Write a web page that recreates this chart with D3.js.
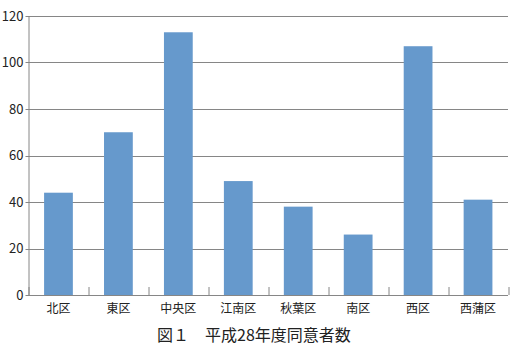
<!DOCTYPE html>
<meta charset="utf-8">
<style>
body { margin: 0; background: #fff; }
text { font-family: "Noto Sans CJK JP", sans-serif; fill: #222; }
</style>
<body></body>
<script src="https://d3js.org/d3.v7.min.js"></script>
<script>
// ward names and counts
var wards = ["北区", "東区", "中央区", "江南区", "秋葉区", "南区", "西区", "西蒲区"];
var counts = [44, 70, 113, 49, 38, 26, 107, 41];
var yTicks = [0, 20, 40, 60, 80, 100, 120];
var title = "図１　平成28年度同意者数";

var W = 510, H = 346;
var margin = {top: 16, right: 2, bottom: 51, left: 28.5};
var width = W - margin.left - margin.right,
    height = H - margin.top - margin.bottom;

var svg = d3.select("body").append("svg")
    .attr("width", W)
    .attr("height", H);

var g = svg.append("g")
    .attr("transform", "translate(" + margin.left + "," + margin.top + ")");

var x = d3.scaleBand()
    .domain(wards)
    .range([0, width])
    .paddingInner(0.52)
    .paddingOuter(0.26);

var y = d3.scaleLinear()
    .domain([0, 120])
    .range([height, 0]);

// gridlines
g.selectAll(".grid")
    .data(yTicks)
  .enter().append("line")
    .attr("x1", -3)
    .attr("x2", width)
    .attr("y1", function(d) { return Math.round(y(d)) + 0.5; })
    .attr("y2", function(d) { return Math.round(y(d)) + 0.5; })
    .attr("stroke", "#868686")
    .attr("stroke-width", 1);

// y labels
g.selectAll(".ylab")
    .data(yTicks)
  .enter().append("text")
    .attr("x", -5)
    .attr("y", function(d) { return y(d); })
    .attr("dy", "0.36em")
    .attr("text-anchor", "end")
    .attr("font-size", 13)
    .text(function(d) { return d; });

// bars
g.selectAll(".bar")
    .data(counts)
  .enter().append("rect")
    .attr("x", function(d, i) { return x(wards[i]); })
    .attr("y", function(d) { return y(d); })
    .attr("width", x.bandwidth())
    .attr("height", function(d) { return height - y(d); })
    .attr("fill", "#6699cc");

// y axis line
g.append("line")
    .attr("x1", 0.5).attr("x2", 0.5)
    .attr("y1", 0).attr("y2", height)
    .attr("stroke", "#868686");

// x axis ticks at band boundaries (pointing up)
var bounds = d3.range(wards.length + 1).map(function(i) { return i * width / wards.length; });
g.selectAll(".xtick")
    .data(bounds)
  .enter().append("line")
    .attr("x1", function(d) { return Math.round(d) + 0.5; })
    .attr("x2", function(d) { return Math.round(d) + 0.5; })
    .attr("y1", height - 8)
    .attr("y2", height)
    .attr("stroke", "#868686");

// x labels
g.selectAll(".xlab")
    .data(wards)
  .enter().append("text")
    .attr("x", function(d) { return x(d) + x.bandwidth() / 2; })
    .attr("y", height + 18)
    .attr("text-anchor", "middle")
    .attr("font-size", 12)
    .text(function(d) { return d; });

// caption
svg.append("text")
    .attr("x", 254)
    .attr("y", 341)
    .attr("text-anchor", "middle")
    .attr("font-size", 16)
    .text(title);
</script>
